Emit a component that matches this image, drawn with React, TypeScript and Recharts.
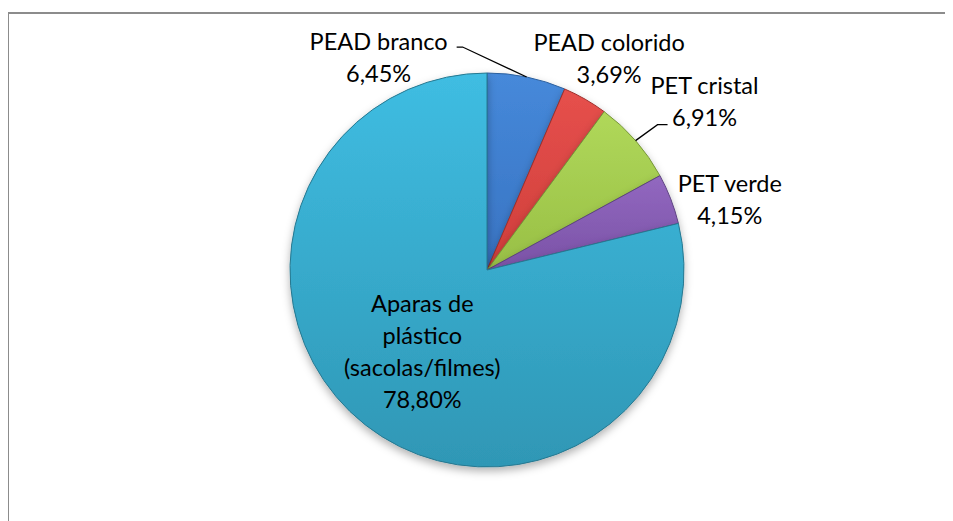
import { PieChart, Pie, Cell } from 'recharts';

const categories = ['PEAD branco', 'PEAD colorido', 'PET cristal', 'PET verde', 'Aparas de plástico (sacolas/filmes)'];
const values = [6.45, 3.69, 6.91, 4.15, 78.8];
const valueLabels = ['6,45%', '3,69%', '6,91%', '4,15%', '78,80%'];
const labelLines = [['PEAD branco'], ['PEAD colorido'], ['PET cristal'], ['PET verde'], ['Aparas de', 'plástico', '(sacolas/filmes)']];

const topColors = ['#4689da', '#e6504c', '#b0d85a', '#9268c0', '#3fbde2'];
const bottomColors = ['#3873c2', '#cf3e3b', '#98bf45', '#7a52a6', '#2f97b5'];
const strokes = ['#2b5f9e', '#9e2f2c', '#77963a', '#5d4282', '#267890'];

const data = categories.map((name, i) => ({ name, value: values[i] }));

// label placement, relative to the outer edge point at each slice's middle
const labelOffsets = [
  [-148, -20],
  [24, -41],
  [69, -40],
  [59, 0],
  [57, -74],
];
// leader lines: [elbow, end] relative to the label centre
const leaders: Record<number, number[][]> = {
  0: [[84, -10], [78, -10]],
  2: [[-47, 24], [-37, 24]],
};

const RAD = Math.PI / 180;
const LINE_H = 32;

const renderLabel = (props: any) => {
  const { cx, cy, midAngle, outerRadius, index } = props;
  const ax = cx + outerRadius * Math.cos(-midAngle * RAD);
  const ay = cy + outerRadius * Math.sin(-midAngle * RAD);
  const [dx, dy] = labelOffsets[index];
  const lx = ax + dx;
  const ly = ay + dy;
  const lines = [...labelLines[index], valueLabels[index]];
  const top = ly - ((lines.length - 1) * LINE_H) / 2;
  const lead = leaders[index];
  return (
    <g key={`lbl-${index}`}>
      {lead && (
        <polyline
          points={`${ax},${ay} ${lx + lead[0][0]},${ly + lead[0][1]} ${lx + lead[1][0]},${ly + lead[1][1]}`}
          fill="none"
          stroke="#000"
          strokeWidth={1.3}
        />
      )}
      {lines.map((t, k) => (
        <text
          key={k}
          x={lx}
          y={top + k * LINE_H}
          textAnchor="middle"
          dominantBaseline="central"
          fill="#000"
          fontSize={23.5}
          fontFamily="Lato, 'Open Sans', sans-serif"
        >
          {t}
        </text>
      ))}
    </g>
  );
};

export default function App() {
  return (
    <div style={{ position: 'relative', margin: '-8px 0 0 -8px', width: 953, height: 521, background: '#fff', overflow: 'hidden' }}>
      <div
        style={{
          position: 'absolute',
          left: 7,
          top: 12,
          width: 1000,
          height: 600,
          border: '2px solid #8c8c8c',
        }}
      />
      <div style={{ position: 'absolute', left: 0, top: 0 }}>
        <PieChart width={953} height={521} margin={{ top: 0, right: 0, bottom: 0, left: 0 }}>
          <defs>
            <filter id="pieShadow" x="-10%" y="-10%" width="120%" height="125%">
              <feDropShadow dx="0" dy="4" stdDeviation="4" floodColor="#000" floodOpacity="0.3" />
            </filter>
            {topColors.map((c, i) => (
              <linearGradient key={i} id={`sliceGrad${i}`} x1="0" y1="0" x2="0" y2="1">
                <stop offset="0%" stopColor={c} />
                <stop offset="100%" stopColor={bottomColors[i]} />
              </linearGradient>
            ))}
          </defs>
          <Pie
            data={data}
            dataKey="value"
            nameKey="name"
            cx={487}
            cy={270}
            outerRadius={197}
            startAngle={90}
            endAngle={-270}
            isAnimationActive={false}
            label={renderLabel}
            labelLine={false}
            style={{ filter: 'url(#pieShadow)' }}
          >
            {data.map((d, i) => (
              <Cell key={d.name} fill={`url(#sliceGrad${i})`} stroke={strokes[i]} strokeWidth={1} />
            ))}
          </Pie>
        </PieChart>
      </div>
    </div>
  );
}
